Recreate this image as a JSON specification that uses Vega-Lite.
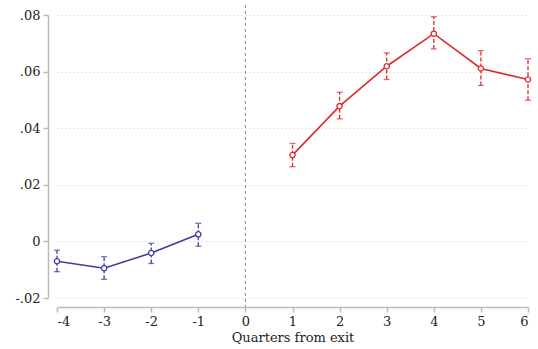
{
  "$schema": "https://vega.github.io/schema/vega-lite/v6.json",
  "autosize": {"type": "none"},
  "padding": {"left": 48, "top": 5, "right": 2, "bottom": 42},
  "width": 488,
  "height": 302,
  "background": "white",
  "config": {
    "view": {"stroke": null},
    "font": "DejaVu Serif",
    "axis": {"labelFont": "DejaVu Serif", "titleFont": "DejaVu Serif", "labelColor": "#222", "titleColor": "#222", "titleFontWeight": "normal"}
  },
  "data": {"values": [
    {"q": -4, "est": -0.0070, "lo": -0.0107, "hi": -0.0031, "grp": "pre"},
    {"q": -3, "est": -0.0095, "lo": -0.0134, "hi": -0.0054, "grp": "pre"},
    {"q": -2, "est": -0.0041, "lo": -0.0078, "hi": -0.0007, "grp": "pre"},
    {"q": -1, "est": 0.0025, "lo": -0.0017, "hi": 0.0064, "grp": "pre"},
    {"q": 1, "est": 0.0305, "lo": 0.0264, "hi": 0.0346, "grp": "post"},
    {"q": 2, "est": 0.0478, "lo": 0.0433, "hi": 0.0527, "grp": "post"},
    {"q": 3, "est": 0.0619, "lo": 0.0572, "hi": 0.0666, "grp": "post"},
    {"q": 4, "est": 0.0734, "lo": 0.0680, "hi": 0.0794, "grp": "post"},
    {"q": 5, "est": 0.0611, "lo": 0.0551, "hi": 0.0674, "grp": "post"},
    {"q": 6, "est": 0.0572, "lo": 0.0499, "hi": 0.0645, "grp": "post"}
  ]},
  "encoding": {
    "x": {"field": "q", "type": "quantitative",
      "scale": {"domain": [-4, 6], "range": [9, 480], "nice": false, "zero": false},
      "axis": {"title": "Quarters from exit", "values": [-4,-3,-2,-1,0,1,2,3,4,5,6],
        "labelExpr": "datum.value < 0 ? '-' + abs(datum.value) : '' + datum.value",
        "grid": false, "domainColor": "#bbb", "domainWidth": 1.5, "tickColor": "#bbb", "tickWidth": 1.5, "tickSize": 5,
        "labelFontSize": 13, "labelPadding": 3, "titleFontSize": 13, "titlePadding": 3}},
    "color": {"field": "grp", "type": "nominal", "scale": {"domain": ["pre", "post"], "range": ["#3d3d9e", "#d92b2b"]}, "legend": null}
  },
  "layer": [
    {
      "mark": {"type": "rule", "color": "#999", "strokeWidth": 1.2},
      "data": {"values": [{"z": 0}]},
      "encoding": {
        "y": {"field": "z", "type": "quantitative",
          "scale": {"domain": [-0.02, 0.08], "range": [293, 10], "nice": false, "zero": false},
          "axis": {"title": null, "values": [-0.02, 0, 0.02, 0.04, 0.06, 0.08],
            "labelExpr": "datum.value == 0 ? '0' : (datum.value < 0 ? '-' : '') + '.' + format(round(abs(datum.value)*100), '02d')",
            "grid": true, "gridDash": [1, 3], "gridColor": "#ccc", "gridWidth": 1,
            "domainColor": "#bbb", "domainWidth": 1.5, "tickColor": "#bbb", "tickWidth": 1.5, "tickSize": 5,
            "labelFontSize": 13, "labelPadding": 3}},
        "color": {"value": "#999"}
      }
    },
    {
      "mark": {"type": "rule", "color": "#888", "strokeDash": [3, 3], "strokeWidth": 1},
      "data": {"values": [{"v": 0}]},
      "encoding": {"x": {"field": "v", "type": "quantitative"}, "color": {"value": "#888"}}
    },
    {
      "mark": {"type": "rule", "strokeWidth": 1.3, "strokeDash": [4, 2]},
      "encoding": {"y": {"field": "lo", "type": "quantitative"}, "y2": {"field": "hi"}}
    },
    {
      "mark": {"type": "tick", "orient": "horizontal", "size": 6, "thickness": 1.3},
      "encoding": {"y": {"field": "lo", "type": "quantitative"}}
    },
    {
      "mark": {"type": "tick", "orient": "horizontal", "size": 6, "thickness": 1.3},
      "encoding": {"y": {"field": "hi", "type": "quantitative"}}
    },
    {
      "mark": {"type": "line", "strokeWidth": 1.6},
      "encoding": {"y": {"field": "est", "type": "quantitative"}, "detail": {"field": "grp"}}
    },
    {
      "mark": {"type": "point", "filled": false, "size": 28, "strokeWidth": 1.3, "opacity": 1, "fill": "white"},
      "encoding": {"y": {"field": "est", "type": "quantitative"}}
    }
  ]
}
